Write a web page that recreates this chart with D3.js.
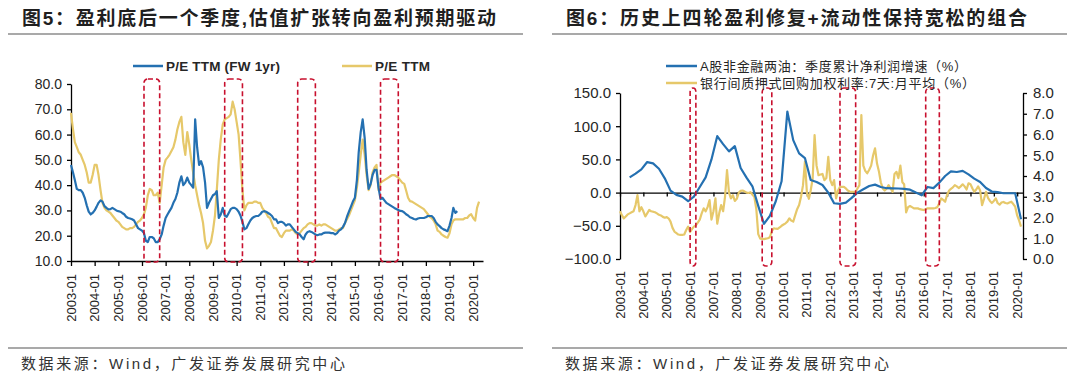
<!DOCTYPE html>
<html>
<head>
<meta charset="utf-8">
<script src="https://cdn.jsdelivr.net/npm/d3@7/dist/d3.min.js"></script>
<style>
  body { margin: 0; background: #fff; }
  svg { display: block; font-family: "Liberation Sans", Arial, "Noto Sans CJK SC", sans-serif; }
</style>
</head>
<body>
<div id="chart"></div>
<script>
// ---- data (monthly from 2003-01 unless noted) ----
const tickLabels = ['2003-01','2004-01','2005-01','2006-01','2007-01','2008-01','2009-01','2010-01','2011-01',
  '2012-01','2013-01','2014-01','2015-01','2016-01','2017-01','2018-01','2019-01','2020-01'];

// 图5: P/E TTM (FW 1yr), 2003-01 .. 2019-05
const peFwd = [48,45,42,38.5,38,38,37,35,32,29.5,
  28.4,29,30,31.5,33,34,33.5,31.7,31,30.4,
  30.5,31,30.5,30,29.7,29.5,29,28.5,27.5,27,
  26.8,26.5,26,24.5,23,22.5,22,21,18,17.5,
  19.5,19.5,19,17.5,17.5,18.6,20.5,24,27,28.5,
  29.7,31,33,34.5,37,41,43.5,40,41,43,
  41,40,39,66,55,48,49.5,47,41,31,
  33,34.5,36,36.5,37.6,27,28.4,31,28,27.5,
  29,30.5,31,31,30.5,29.5,28,25.5,22.5,23,
  24.5,26,27,27.5,27.8,27.8,28.5,29.5,29.7,29.5,
  29,28.5,27.8,26.5,26.5,25,25.5,25.5,25,24,
  24.5,24.5,23.5,22.5,21.5,21,20.5,19.5,18.6,20.5,
  21.5,21.8,21.5,21,20.5,20.2,20.5,20.5,21,21.2,
  21.2,21.2,21,21,20.5,21,22,22.5,23.5,25,
  27.5,29.5,31.5,33.5,35,42,53,61,66,58.7,
  46,38.5,40.5,44,46,46,39,34.5,35,34,
  33,32.5,32,31.5,31,30.6,30.2,29.8,29.7,29.2,
  28.5,28,27.3,27,26.6,26.4,26.8,27,27,27,
  27.3,27.8,27.8,27.8,27,25.5,24.5,23.8,23,22.5,
  22.2,21.8,24,27,31,29,29.7];

// 图5: P/E TTM, 2003-01 .. 2020-04
const peTtm = [68.6,62,57,55,53,52,50,48,45,41,
  41,44,48,48,44,38,33,31,30,29.5,
  29,28,27,26,25.5,24.5,23.5,23,22.5,22.5,
  23,23,23.5,24.5,25.5,26,27,28.5,31,36,
  38.5,38,36,36,37,33,40,47,50,51,
  52,53.5,55,58,62,65,67,57,52,61,
  56,50,45,40,36,32,29,25,18,15,
  16,17.5,22,28,38,50,58,64,66,66.5,
  67,68,73,70,65,60,50,38,30,32,
  33,33,33,33.5,33.5,33,33,31,30,29,
  27.5,27,25,23,23,21.5,20,19.5,21,22,
  22,22,22.5,22,21,20.5,21,22,23,23.5,
  24.5,25,25,24.5,24,24,24.5,24,24.5,24.5,
  24,23.5,23,22.5,22,22,22.5,23,23,25,
  26.5,28,30,32,34,39,45,52,58,52,
  44,38,40,45,47,48,38,41,41.5,42,
  42.5,43,43.5,44,44,43.5,43,42,41,40.5,
  38,35,33.7,33.5,33,32.5,32,31.5,31,30.5,
  29.5,28.5,27.5,27,26,24.5,22,21.5,20.5,20,
  19.5,19.2,21,24.5,26,26.5,26.5,26.5,26.5,26.5,
  27,27,28,28.5,27,26,31,33.5];

// 图6: A股非金融两油 季度累计净利润增速 (%), quarterly 2003-06 .. 2020-03
const profitGrowth = [23,28.5,35,
  46,44,36,21.5,
  3,-3.4,-6,-13,
  -6,8.5,23,50,
  85,73,62,70,
  37,22.5,9.5,-20,
  -47,-35,-13,17,
  122,79,59,52,
  19,16,11.4,0,
  -16,-17,-15,-8,
  0,5,10,12,
  8.5,6.6,6.5,6.2,
  5.5,4.4,0,-4,
  8.5,6.7,15,25,
  32,31,32.7,27.4,
  21,16,7,1.6,
  0.7,-1,-1,-1,
  -40];

// 图6: 银行间质押式回购加权利率:7天:月平均 (%), 2003-01 .. 2020-03
const repoRate = [2.3,2.1,1.96,2.05,2.15,2.2,2.25,2.3,2.6,3.08,
  2.3,2.5,2.3,2.05,2.2,2.36,2.3,2.28,2.25,2.2,
  2.13,2.1,2.03,1.99,2.02,1.95,1.8,1.5,1.32,1.25,
  1.18,1.16,1.16,1.18,1.4,1.56,1.3,1.45,1.56,1.62,
  1.75,1.9,2.2,2.44,2.3,2.5,2.84,1.9,2.3,2.92,
  1.7,2.2,2.6,2.3,3.0,4.29,3.2,2.92,3.08,2.8,
  2.9,3.2,3.28,3.3,3.25,3.2,3.18,3.22,3.1,3.0,
  2.4,1.2,0.98,0.97,0.96,0.98,1.0,1.05,1.35,1.48,
  1.46,1.45,1.52,1.6,1.66,1.72,1.8,1.96,1.85,1.8,
  2.1,2.4,2.6,3.0,3.56,4.69,3.2,2.9,3.3,3.88,
  5.97,4.5,4.04,4.07,4.1,3.8,3.9,4.92,3.8,3.56,
  3.8,2.92,3.3,3.48,3.48,3.48,3.4,3.3,3.25,3.24,
  3.24,3.24,3.4,3.56,6.94,4.5,4.25,4.13,4.3,4.5,
  5.0,5.33,4.6,4.2,3.7,3.4,3.3,3.4,3.56,3.4,
  3.24,4.1,4.2,3.9,4.5,3.7,3.6,2.25,2.5,2.55,
  2.5,2.44,2.44,2.44,2.4,2.38,2.36,2.4,2.44,2.44,
  2.44,2.44,2.46,2.5,2.7,2.92,2.85,2.76,3.1,3.3,
  3.38,3.45,3.56,3.5,3.42,3.5,3.6,3.5,3.35,3.65,
  3.6,3.4,3.24,3.35,3.5,3.3,2.6,2.9,3.24,2.95,
  2.8,2.7,2.8,2.92,2.7,2.62,2.72,2.75,2.7,2.68,
  2.72,2.76,2.65,2.52,2.1,1.85,1.56];

const leftTicks = [10,20,30,40,50,60,70,80];
const growthTicks = [-100,-50,0,50,100,150];
const rateTicks = [0,1,2,3,4,5,6,7,8];

// highlighted windows (red dashed boxes)
const boxes5 = [['2006-02','2006-10'],['2009-07','2010-04'],['2012-08','2013-05'],['2016-02','2016-11']];
const boxes6 = [['2006-01','2006-04'],['2009-02','2009-07'],['2012-06','2013-02'],['2016-02','2016-09']];

// ---- helpers ----
const parseM = d3.timeParse('%Y-%m');
const start = parseM('2003-01');
const monthly = arr => arr.map((v, i) => ({ date: d3.timeMonth.offset(start, i), value: v }));
const quarterly = (first, arr) => arr.map((v, i) => ({ date: d3.timeMonth.offset(parseM(first), 3 * i), value: v }));
const tickDates = tickLabels.map(parseM);

const BLUE = '#2470b1';
const GOLD = '#e6c86a';
const RED = '#c8102e';
const INK = '#262626';
const CJK = '"Liberation Sans", "Noto Sans CJK SC", sans-serif';

const svg = d3.select('#chart').append('svg')
  .attr('width', 1080)
  .attr('height', 374);

// ---- titles, rules, sources ----
const titles = [
  { x: 22, w: 474, lx: [8, 523], text: '图5：盈利底后一个季度,估值扩张转向盈利预期驱动' },
  { x: 566, w: 461, lx: [552, 1067], text: '图6：历史上四轮盈利修复+流动性保持宽松的组合' }
];
titles.forEach(t => {
  svg.append('text')
    .attr('x', t.x).attr('y', 25)
    .attr('fill', '#1f1f1f')
    .attr('textLength', t.w)
    .attr('lengthAdjust', 'spacing')
    .style('font-size', '19px')
    .style('font-weight', 'bold')
    .style('font-family', CJK)
    .text(t.text);
  svg.append('line')
    .attr('x1', t.lx[0]).attr('x2', t.lx[1]).attr('y1', 34).attr('y2', 34)
    .attr('stroke', '#8c8c8c').attr('stroke-width', 1.5);
  svg.append('line')
    .attr('x1', t.lx[0]).attr('x2', t.lx[1]).attr('y1', 348).attr('y2', 348)
    .attr('stroke', '#8c8c8c').attr('stroke-width', 1.5);
  svg.append('text')
    .attr('x', t.x - 1).attr('y', 369)
    .attr('fill', '#333')
    .attr('textLength', 324)
    .attr('lengthAdjust', 'spacing')
    .style('font-size', '15px')
    .style('font-family', CJK)
    .text('数据来源：Wind，广发证券发展研究中心');
});

function styleAxis(g) {
  g.select('.domain').attr('stroke', '#000').attr('stroke-width', 1.3);
  g.selectAll('.tick line').attr('stroke', '#000').attr('stroke-width', 1.3);
  g.selectAll('text').attr('fill', INK);
}

function dateLabels(g, x, y) {
  g.selectAll('text.xl')
    .data(tickLabels)
    .join('text')
    .attr('class', 'xl')
    .attr('transform', (d, i) => `translate(${x(tickDates[i])},${y}) rotate(-90)`)
    .attr('text-anchor', 'end')
    .attr('dy', '0.35em')
    .attr('fill', INK)
    .style('font-size', '13px')
    .text(d => d);
}

function drawBoxes(g, list, x, top, bottom) {
  g.selectAll('rect.box')
    .data(list)
    .join('rect')
    .attr('class', 'box')
    .attr('x', d => x(parseM(d[0])))
    .attr('width', d => x(parseM(d[1])) - x(parseM(d[0])))
    .attr('y', top)
    .attr('height', bottom - top)
    .attr('rx', 4)
    .attr('fill', 'none')
    .attr('stroke', RED)
    .attr('stroke-width', 1.6)
    .attr('stroke-dasharray', '5,3');
}

// ---- 图5 ----
const x5 = d3.scaleTime().domain([parseM('2003-01'), parseM('2020-06')]).range([71, 483]);
const y5 = d3.scaleLinear().domain([10, 80]).range([261, 84]);
const p5 = svg.append('g');

p5.append('g')
  .attr('transform', 'translate(71,0)')
  .call(d3.axisLeft(y5).tickValues(leftTicks).tickSize(4).tickSizeOuter(0).tickFormat(d3.format('.1f')))
  .call(styleAxis)
  .call(g => g.selectAll('text').style('font-size', '14px').attr('x', -9));

p5.append('g')
  .attr('transform', 'translate(0,261)')
  .call(d3.axisBottom(x5).tickValues(tickDates).tickSize(5).tickSizeOuter(0).tickFormat(''))
  .call(styleAxis);
dateLabels(p5, x5, 274);

const line5 = d3.line().x(d => x5(d.date)).y(d => y5(d.value));
p5.append('path').datum(monthly(peTtm))
  .attr('d', line5).attr('fill', 'none').attr('stroke', GOLD).attr('stroke-width', 2.2).attr('stroke-linejoin', 'round');
p5.append('path').datum(monthly(peFwd))
  .attr('d', line5).attr('fill', 'none').attr('stroke', BLUE).attr('stroke-width', 2.2).attr('stroke-linejoin', 'round');

drawBoxes(p5, boxes5, x5, 79, 262);

const leg5 = [
  { x: 133, w: 114, color: BLUE, text: 'P/E TTM (FW 1yr)' },
  { x: 342, w: 55, color: GOLD, text: 'P/E TTM' }
];
leg5.forEach(l => {
  p5.append('line').attr('x1', l.x).attr('x2', l.x + 30).attr('y1', 66).attr('y2', 66)
    .attr('stroke', l.color).attr('stroke-width', 2.5);
  p5.append('text').attr('x', l.x + 33).attr('y', 66).attr('dy', '0.35em')
    .attr('textLength', l.w).attr('lengthAdjust', 'spacing')
    .attr('fill', INK).style('font-size', '13.5px').style('font-weight', 'bold').text(l.text);
});

// ---- 图6 ----
const x6 = d3.scaleTime().domain([parseM('2003-01'), parseM('2020-04')]).range([620, 1023]);
const yG = d3.scaleLinear().domain([-100, 150]).range([259, 93]);
const yR = d3.scaleLinear().domain([0, 8]).range([259, 93]);
const p6 = svg.append('g');

p6.append('g')
  .attr('transform', 'translate(620,0)')
  .call(d3.axisLeft(yG).tickValues(growthTicks).tickSize(4).tickSizeOuter(0).tickFormat(d3.format('.1f')))
  .call(styleAxis)
  .call(g => g.selectAll('text').style('font-size', '15px').attr('x', -9));

p6.append('g')
  .attr('transform', 'translate(1023,0)')
  .call(d3.axisRight(yR).tickValues(rateTicks).tickSize(4).tickSizeOuter(0).tickFormat(d3.format('.1f')))
  .call(styleAxis)
  .call(g => g.selectAll('text').style('font-size', '15px').attr('x', 10));

p6.append('g')
  .attr('transform', `translate(0,${yG(0)})`)
  .call(d3.axisBottom(x6).tickValues(tickDates).tickSize(4).tickSizeOuter(0).tickFormat(''))
  .call(styleAxis);
dateLabels(p6, x6, 271);

p6.append('path').datum(monthly(repoRate))
  .attr('d', d3.line().x(d => x6(d.date)).y(d => yR(d.value)))
  .attr('fill', 'none').attr('stroke', GOLD).attr('stroke-width', 2.2).attr('stroke-linejoin', 'round');
p6.append('path').datum(quarterly('2003-06', profitGrowth))
  .attr('d', d3.line().x(d => x6(d.date)).y(d => yG(d.value)))
  .attr('fill', 'none').attr('stroke', BLUE).attr('stroke-width', 2.2).attr('stroke-linejoin', 'round');

drawBoxes(p6, boxes6, x6, 88, 266);

const leg6 = [
  { y: 66, w: 267, color: BLUE, text: 'A股非金融两油：季度累计净利润增速（%）' },
  { y: 83, w: 275, color: GOLD, text: '银行间质押式回购加权利率:7天:月平均（%）' }
];
leg6.forEach(l => {
  p6.append('line').attr('x1', 666).attr('x2', 697).attr('y1', l.y).attr('y2', l.y)
    .attr('stroke', l.color).attr('stroke-width', 2.5);
  p6.append('text').attr('x', 700).attr('y', l.y).attr('dy', '0.35em')
    .attr('textLength', l.w).attr('lengthAdjust', 'spacing')
    .attr('fill', INK).style('font-size', '13px')
    .style('font-family', CJK)
    .text(l.text);
});
</script>
</body>
</html>
